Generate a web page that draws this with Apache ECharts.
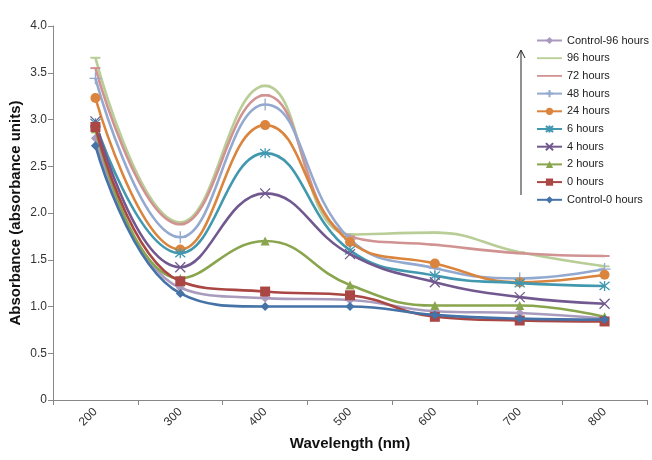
<!DOCTYPE html>
<html>
<head>
<meta charset="utf-8">
<script src="https://cdn.jsdelivr.net/npm/echarts@6/dist/echarts.min.js"></script>
<style>html,body{margin:0;padding:0;background:#fff}#c{width:652px;height:460px}</style>
</head>
<body>
<div id="c"></div>
<script>
var wavelengths = ['200','300','400','500','600','700','800'];
var control0  = [2.72, 1.14, 1.00, 1.00, 0.91, 0.87, 0.86];
var hours0    = [2.92, 1.27, 1.16, 1.12, 0.89, 0.85, 0.84];
var hours2    = [2.90, 1.30, 1.70, 1.23, 1.01, 1.01, 0.89];
var hours4    = [2.98, 1.42, 2.21, 1.56, 1.26, 1.10, 1.03];
var hours6    = [2.96, 1.57, 2.64, 1.60, 1.33, 1.25, 1.22];
var hours24   = [3.23, 1.61, 2.94, 1.69, 1.46, 1.26, 1.34];
var hours48   = [3.44, 1.74, 3.16, 1.72, 1.41, 1.30, 1.40];
var hours72   = [3.55, 1.88, 3.26, 1.75, 1.66, 1.57, 1.54];
var hours96   = [3.66, 1.90, 3.36, 1.77, 1.79, 1.58, 1.43];
var control96 = [2.80, 1.20, 1.09, 1.07, 0.95, 0.93, 0.87];
var seriesNames = ['Control-0 hours','0 hours','2 hours','4 hours','6 hours','24 hours','48 hours','72 hours','96 hours','Control-96 hours'];
var seriesData = [control0, hours0, hours2, hours4, hours6, hours24, hours48, hours72, hours96, control96];
var colors = ['#4572A7','#AA4643','#89A54E','#71588F','#4198AF','#DB843D','#93A9CF','#D19392','#B9CD96','#A99BBD'];
var symbols = ['diamond','rect','triangle','path://M0,0L10,10M10,0L0,10','path://M0,0L10,10M10,0L0,10M5,-1L5,11','circle','path://M0,5L10,5M5,0L5,10','rect','rect','diamond'];
var symbolSizes = [9,10,9,10,10,10,12,[10,2],[10,2],9];
var strokeSym = [false,false,false,true,true,false,true,false,false,false];
var plainLegend = [false,false,false,false,false,false,false,true,true,false];

var series = seriesNames.map(function(n,i){
  return {
    name: n, type: 'line', data: seriesData[i], smooth: 0.45,
    symbol: symbols[i], symbolSize: symbolSizes[i], showSymbol: true,
    lineStyle: {color: colors[i], width: 2.6},
    itemStyle: strokeSym[i] ? {color: colors[i], borderColor: colors[i], borderWidth: 1.3} : {color: colors[i]},
    z: 20 - i
  };
});
var legendData = seriesNames.map(function(n,i){
  return plainLegend[i] ? {name: n, icon: 'path://M0,3.6L25,3.6L25,5.4L0,5.4Z'} : {name: n};
}).reverse();

var chart = echarts.init(document.getElementById('c'), null, {renderer:'canvas'});
chart.setOption({
  animation: false,
  backgroundColor: '#fff',
  color: colors,
  grid: {left: 53, right: 5, top: 26, bottom: 60, containLabel: false, outerBoundsMode: 'none'},
  legend: {
    orient: 'vertical', left: 531, top: 30, itemGap: 6.7, itemWidth: 25, itemHeight: 9,
    data: legendData,
    textStyle: {fontFamily: 'Liberation Sans, Arial', fontSize: 11, color: '#222'}
  },
  xAxis: {
    type: 'category', data: wavelengths, boundaryGap: true,
    name: 'Wavelength (nm)', nameLocation: 'middle', nameGap: 36, nameMoveOverlap: false,
    nameTextStyle: {fontFamily: 'Liberation Sans, Arial', fontWeight: 'bold', fontSize: 15, color: '#111'},
    axisLine: {lineStyle: {color: '#888'}},
    axisTick: {show: true, alignWithLabel: false, length: 5, lineStyle: {color: '#888'}},
    axisLabel: {rotate: 45, fontFamily: 'Liberation Sans, Arial', fontSize: 12, color: '#333', margin: 10},
    splitLine: {show: false}
  },
  yAxis: {
    type: 'value', min: 0, max: 4, interval: 0.5,
    name: 'Absorbance (absorbance units)', nameLocation: 'middle', nameGap: 30, nameMoveOverlap: false,
    nameTextStyle: {fontFamily: 'Liberation Sans, Arial', fontWeight: 'bold', fontSize: 15, color: '#111'},
    axisLine: {show: true, lineStyle: {color: '#888'}},
    axisTick: {show: true, length: 5, lineStyle: {color: '#888'}},
    axisLabel: {fontFamily: 'Liberation Sans, Arial', fontSize: 12, color: '#333', margin: 6,
      formatter: function(v){ return v === 0 ? '0' : v.toFixed(1); }},
    splitLine: {show: false}
  },
  graphic: [
    {type: 'line', shape: {x1: 521, y1: 195, x2: 521, y2: 51}, style: {stroke: '#222', lineWidth: 1}},
    {type: 'polyline', shape: {points: [[517, 58], [521, 50], [525, 58]]}, style: {stroke: '#222', lineWidth: 1, fill: null}}
  ],
  series: series
});
</script>
</body>
</html>
